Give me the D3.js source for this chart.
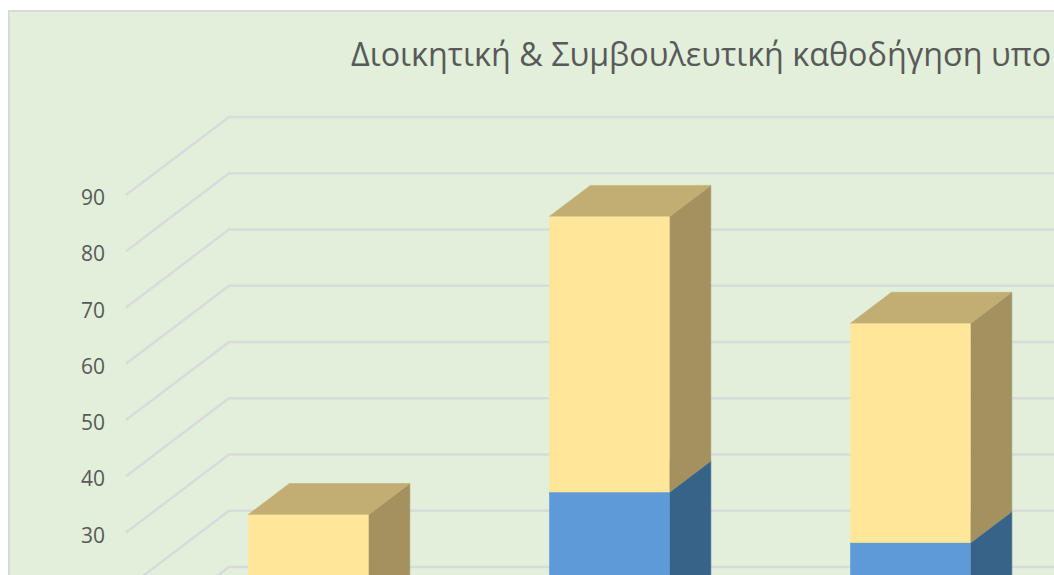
<!DOCTYPE html>
<html><head><meta charset="utf-8">
<script src="https://cdn.jsdelivr.net/npm/d3@7/dist/d3.min.js"></script>
<style>html,body{margin:0;padding:0;background:#fff;overflow:hidden}svg{display:block}</style>
</head><body><svg id="c" width="1054" height="575"></svg>
<script>
const titleText = "Διοικητική & Συμβουλευτική καθοδήγηση υπο";
const categories = ["1", "2", "3"];
const blueValues = [10, 33, 24];
const yellowValues = [19, 49, 39];
const gridTicks = [0, 10, 20, 30, 40, 50, 60, 70, 80, 90];
const labelTicks = [30, 40, 50, 60, 70, 80, 90];

const svg = d3.select("#c");
const y = d3.scaleLinear().domain([0, 90]).range([701.25, 195]);
const x = d3.scaleBand().domain(categories).range([127, 127 + 3 * 301]).paddingInner(0.6).paddingOuter(0.3);
const DX = 103, DY = -78;
const front = 0.3, back = 0.7;

svg.append("rect").attr("x", 9).attr("y", 11).attr("width", 1100).attr("height", 620)
  .attr("fill", "#e2efda").attr("stroke", "#d9d9d9").attr("stroke-width", 2);

svg.append("g").selectAll("path").data(gridTicks).join("path")
  .attr("fill", "none").attr("stroke", "#d9dadb").attr("stroke-width", 2.4)
  .attr("d", t => d3.line()([[126, y(t)], [126 + DX, y(t) + DY], [1100, y(t) + DY]]));

const axis = d3.axisLeft(y).tickValues(labelTicks).tickSize(0).tickPadding(0);
const ga = svg.append("g").attr("transform", "translate(105,3)").call(axis);
ga.select(".domain").remove();
ga.selectAll("text").attr("fill", "#595959").style("font-family", "'Open Sans'").style("font-size", "21px");

function box(g, cat, v0, v1, c) {
  const xf = x(cat) + DX * front, xr = xf + x.bandwidth();
  const off = DY * front, d = (back - front);
  const yT = y(v1) + off, yB = y(v0) + off;
  const dx = DX * d, dy = DY * d;
  g.append("path").attr("fill", c.side).attr("stroke", c.side).attr("stroke-width", 0.6)
    .attr("d", d3.line()([[xr, yT], [xr + dx, yT + dy], [xr + dx, yB + dy], [xr, yB]]) + "Z");
  g.append("path").attr("fill", c.top).attr("stroke", c.top).attr("stroke-width", 0.6)
    .attr("d", d3.line()([[xf, yT], [xf + dx, yT + dy], [xr + dx, yT + dy], [xr, yT]]) + "Z");
  g.append("rect").attr("x", xf).attr("y", yT).attr("width", x.bandwidth()).attr("height", yB - yT).attr("fill", c.face);
}
const blue = {face: "#5f9ad8", side: "#376389", top: "#4a7fae"};
const yellow = {face: "#ffe699", side: "#a3925f", top: "#c2ae73"};
const bars = svg.append("g");
categories.forEach((cat, i) => {
  box(bars, cat, 0, blueValues[i], blue);
  box(bars, cat, blueValues[i], blueValues[i] + yellowValues[i], yellow);
});

svg.append("text").attr("x", 351).attr("y", 66).attr("fill", "#595959")
  .style("font-family", "'Open Sans'").style("font-size", "32.3px").text(titleText);
</script></body></html>
